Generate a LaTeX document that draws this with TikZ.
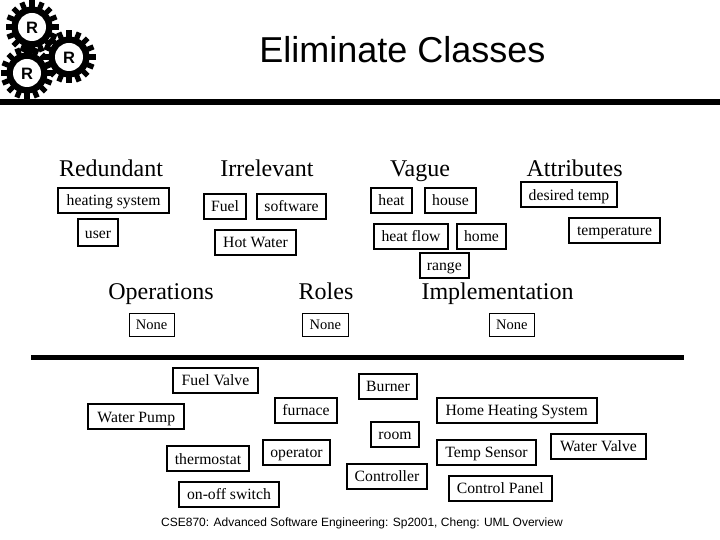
\documentclass[tikz,border=0pt]{standalone}
\usepackage{fontspec}
\setmainfont{Liberation Serif}
\newfontfamily\arialf{Liberation Sans}
\tikzset{
  x=1pt,y=-1pt,
  thickbox/.style={draw=black,line width=2pt,fill=white,inner sep=0pt,text height=11pt,text depth=0pt,font=\fontsize{15.7}{18}\selectfont},
  thinbox/.style={draw=black,line width=0.8pt,fill=white,inner sep=0pt,text height=10pt,text depth=0pt,font=\fontsize{14.5}{17}\selectfont},
  heading/.style={inner sep=0pt,anchor=base,font=\fontsize{24}{28}\selectfont},
  rulebar/.style={fill=black,draw=none},
  gearlabel/.style={inner sep=0pt,font=\arialf\bfseries\fontsize{16.5}{18}\selectfont},
}
\newcommand{\gearshape}[2]{%
  \fill[black] (#1,#2) circle[radius=20.5];
  \foreach \a in {0,22.5,...,337.5}{
    \fill[black,rotate around={\a:(#1,#2)}] (#1-2.6,#2-26.5) rectangle (#1+2.6,#2-18);
  }
}
\begin{document}
\begin{tikzpicture}
\useasboundingbox (0,0) rectangle (720,540);
\fill[white] (0,0) rectangle (720,540);
% gears
\gearshape{32}{27}
\gearshape{69}{57}
\gearshape{27}{73}
\foreach \cx/\cy in {32/27,69/57,27/73}{\fill[white] (\cx,\cy) circle[radius=14];}
\node[gearlabel] (g1) at (32,27.5) {R};
\node[gearlabel] (g2) at (69,57.5) {R};
\node[gearlabel] (g3) at (27,73.5) {R};
% rules
\fill[rulebar] (0,99) rectangle (720,105);
\fill[rulebar] (31,355) rectangle (684,360);
% title
\node[inner sep=0pt,anchor=base,font=\arialf\fontsize{36}{40}\selectfont] (title) at (402.5,63) {Eliminate Classes};
% headings
\node[heading] (h1) at (111,177) {Redundant};
\node[heading] (h2) at (267,177) {Irrelevant};
\node[heading] (h3) at (420,177) {Vague};
\node[heading] (h4) at (574.6,177) {Attributes};
\node[heading] (h5) at (161,299) {Operations};
\node[heading] (h6) at (326,299) {Roles};
\node[heading] (h7) at (497.5,299) {Implementation};
% boxes top
\node[thickbox,minimum width=110.7pt,minimum height=25.3pt] (b1) at (113.6,200.3) {heating system};
\node[thickbox,minimum width=40.6pt,minimum height=27pt] (b2) at (98,232.5) {user};
\node[thickbox,minimum width=42.6pt,minimum height=25.3pt] (b3) at (225,206.3) {Fuel};
\node[thickbox,minimum width=69.6pt,minimum height=25.3pt] (b4) at (291.5,206.3) {software};
\node[thickbox,minimum width=81.6pt,minimum height=25.3pt] (b5) at (255.5,242.3) {Hot Water};
\node[thickbox,minimum width=41.6pt,minimum height=25.3pt] (b6) at (391.5,200.3) {heat};
\node[thickbox,minimum width=51.6pt,minimum height=25.3pt] (b7) at (450.5,200.3) {house};
\node[thickbox,minimum width=74.6pt,minimum height=25.3pt] (b8) at (411,236.3) {heat flow};
\node[thickbox,minimum width=49pt,minimum height=25.3pt] (b9) at (481.5,236.3) {home};
\node[thickbox,minimum width=49.3pt,minimum height=25.3pt] (b10) at (444.3,265.3) {range};
\node[thickbox,minimum width=96.6pt,minimum height=25.3pt] (b11) at (569,194.6) {desired temp};
\node[thickbox,minimum width=91.6pt,minimum height=25.6pt] (b12) at (614.5,230.5) {temperature};
\node[thinbox,minimum width=45.2pt,minimum height=22.8pt] (n1) at (151.7,324.5) {None};
\node[thinbox,minimum width=45.2pt,minimum height=22.8pt] (n2) at (325.3,324.5) {None};
\node[thinbox,minimum width=44.2pt,minimum height=22.8pt] (n3) at (511.8,324.5) {None};
% boxes bottom
\node[thickbox,minimum width=85.6pt,minimum height=25.3pt] (c1) at (215.5,380.3) {Fuel Valve};
\node[thickbox,minimum width=96pt,minimum height=25.6pt] (c2) at (136.3,416.5) {Water Pump};
\node[thickbox,minimum width=62.6pt,minimum height=25.3pt] (c3) at (306,410.3) {furnace};
\node[thickbox,minimum width=82.6pt,minimum height=25.6pt] (c4) at (208,458.5) {thermostat};
\node[thickbox,minimum width=67.6pt,minimum height=25.3pt] (c5) at (296.5,452.3) {operator};
\node[thickbox,minimum width=100.6pt,minimum height=25.3pt] (c6) at (229,494.3) {on-off switch};
\node[thickbox,minimum width=58.6pt,minimum height=25.3pt] (c7) at (388,386.3) {Burner};
\node[thickbox,minimum width=160pt,minimum height=25.3pt] (c8) at (516.7,410.3) {Home Heating System};
\node[thickbox,minimum width=48.6pt,minimum height=25.3pt] (c9) at (395,434.3) {room};
\node[thickbox,minimum width=99.6pt,minimum height=25.3pt] (c10) at (486.5,452.3) {Temp Sensor};
\node[thickbox,minimum width=95.6pt,minimum height=25.3pt] (c11) at (598.5,446.3) {Water Valve};
\node[thickbox,minimum width=80.6pt,minimum height=25.3pt] (c12) at (387,476.3) {Controller};
\node[thickbox,minimum width=103.3pt,minimum height=25.3pt] (c13) at (500.3,488.3) {Control Panel};
% footer
\node[inner sep=0pt,anchor=base,font=\arialf\fontsize{12}{14}\selectfont] (foot) at (362,526) {CSE870: Advanced Software Engineering: Sp2001, Cheng: UML Overview};
\end{tikzpicture}
\end{document}
